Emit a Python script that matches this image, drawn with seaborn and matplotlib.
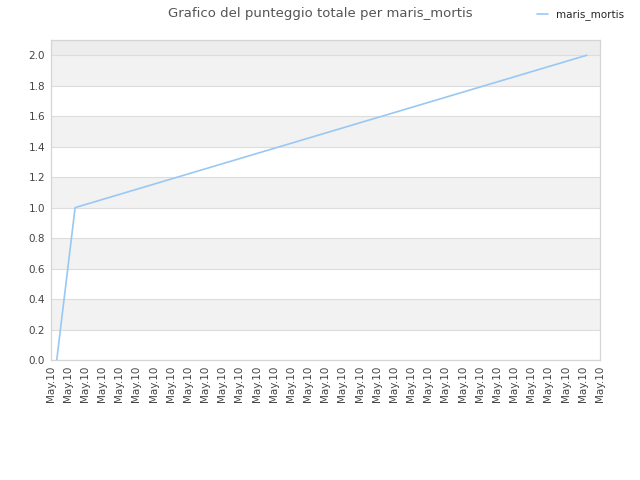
import matplotlib
matplotlib.use("Agg")
import matplotlib.pyplot as plt
import seaborn as sns
import numpy as np
import pandas as pd


# dati (posizione sull'asse temporale, punteggio)
tempi = [0.36, 1.43, 31.23]
punteggi = [0.0, 1.0, 2.0]
giocatore = "maris_mortis"
etichette_x = ["May.10"] * 33
tick_y = [0.0, 0.2, 0.4, 0.6, 0.8, 1.0, 1.2, 1.4, 1.6, 1.8, 2.0]

sns.set_style("white")
plt.rcParams["font.family"] = ["DejaVu Sans"]

df = pd.DataFrame({"tempo": tempi, "punteggio": punteggi, "giocatore": giocatore})

fig = plt.figure(figsize=(6.4, 4.8), dpi=100)
ax = fig.add_axes([0.079, 0.25, 0.8585, 0.6667])

# bande alternate
for i in range(0, len(tick_y) - 1):
    if i % 2 == 1:
        ax.axhspan(tick_y[i], tick_y[i + 1], color="#f2f2f2", zorder=0, lw=0)
ax.axhspan(2.0, 2.1, color="#ededed", zorder=0, lw=0)
for y in tick_y:
    ax.axhline(y, color="#dddddd", lw=0.8, zorder=1)

sns.lineplot(x="tempo", y="punteggio", hue="giocatore", data=df,
             palette=["#99c8f5"], lw=1.2, ax=ax, zorder=3)

ax.set_xlim(0, len(etichette_x) - 1)
ax.set_ylim(0, 2.1)
ax.set_xticks(range(len(etichette_x)))
ax.set_xticklabels(etichette_x, rotation=90, fontsize=7.5, color="#444444")
ax.set_yticks(tick_y)
ax.set_yticklabels([f"{v:.1f}" for v in tick_y], fontsize=7.5, color="#444444")
ax.tick_params(length=0, pad=4)
ax.set_xlabel("")
ax.set_ylabel("")
for s in ax.spines.values():
    s.set_color("#d5d5d5")
    s.set_linewidth(0.9)

ax.legend_.remove()
fig.legend(handles=ax.get_lines()[-1:], labels=[giocatore], loc="upper right",
           bbox_to_anchor=(0.99, 1.0), frameon=False, fontsize=7.5,
           handlelength=1.0)

fig.suptitle("Grafico del punteggio totale per maris_mortis", fontsize=9.5,
             color="#555555", y=0.985)

plt.savefig("out.png", dpi=100)
